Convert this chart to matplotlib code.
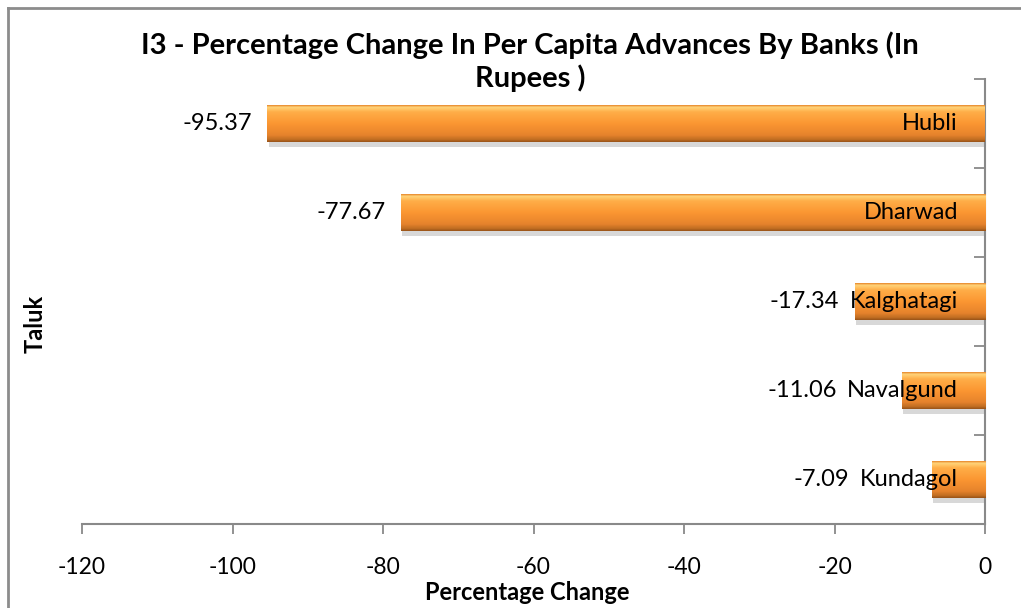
import numpy as np
import matplotlib
matplotlib.use("Agg")
import matplotlib.pyplot as plt
import matplotlib.patheffects as pe
from matplotlib.colors import LinearSegmentedColormap
from matplotlib.lines import Line2D

plt.rcParams.update({"font.family": ["Lato", "DejaVu Sans"]})

talukas = ["Hubli", "Dharwad", "Kalghatagi", "Navalgund", "Kundagol"]
pct_change = [-95.37, -77.67, -17.34, -11.06, -7.09]
xticks = [-120, -100, -80, -60, -40, -20, 0]

W, H = 1021, 608
fig = plt.figure(figsize=(W / 100, H / 100), dpi=100)
ax = fig.add_axes([82 / W, 1 - 524 / H, (985 - 82) / W, (524 - 79) / H])

grey = "#898989"
bar_h = 0.41
grad = LinearSegmentedColormap.from_list("bevel", [
    (0.0, "#e88a2e"), (0.05, "#ffd47a"), (0.18, "#ffae48"), (0.5, "#fb9632"),
    (0.82, "#e6832c"), (0.94, "#c06d22"), (1.0, "#9a5519")])
col = grad(np.linspace(0, 1, 64))[:, None, :3]

ypos = np.arange(len(talukas))
bars = ax.barh(ypos, pct_change, height=bar_h, color="#f39333", zorder=2,
               path_effects=[pe.SimplePatchShadow(offset=(1, -4), alpha=0.25, shadow_rgbFace="#666666"),
                             pe.Normal()])
for b, v, y in zip(bars, pct_change, ypos):
    im = ax.imshow(col, extent=(v, 0, y + bar_h / 2, y - bar_h / 2), aspect="auto",
                   origin="upper", zorder=3, interpolation="bilinear")
    im.set_clip_path(b)

ax.set_xlim(-120, 0)
ax.set_ylim(len(talukas) - 0.5, -0.5)

cat_texts = []
for v, y, name in zip(pct_change, ypos, talukas):
    cat_texts.append(ax.text(-3.6, y, name, ha="right", va="center", fontsize=17, zorder=5))

fig.canvas.draw()
r = fig.canvas.get_renderer()
inv = ax.transData.inverted()
for t, v, y in zip(cat_texts, pct_change, ypos):
    bb = t.get_window_extent(r)
    left = inv.transform((bb.x0, 0))[0]
    xv = min(v - 2.0, left - 1.4)
    ax.text(xv, y, f"{v:.2f}", ha="right", va="center", fontsize=17, zorder=5)

ax.set_xticks(xticks)
ax.set_xticklabels([str(t) for t in xticks], fontsize=16.5)
ax.tick_params(axis="x", direction="out", length=7, width=1.3, color=grey, pad=17)
ax.yaxis.tick_right()
ax.set_yticks(np.arange(-0.5, len(talukas), 1.0))
ax.set_yticklabels([])
ax.tick_params(axis="y", direction="in", length=8, width=1.3, color=grey)
for s in ["top", "left"]:
    ax.spines[s].set_visible(False)
for s in ["bottom", "right"]:
    ax.spines[s].set_color(grey)
    ax.spines[s].set_linewidth(1.5)

fig.text(530 / W, 1 - 62 / H, "I3 - Percentage Change In Per Capita Advances By Banks (In\nRupees )",
         ha="center", va="center", fontsize=21, fontweight="bold", linespacing=1.25)
fig.text(527 / W, 1 - 592 / H, "Percentage Change", ha="center", va="center",
         fontsize=17, fontweight="bold")
fig.text(35 / W, 1 - 324 / H, "Taluk", ha="center", va="center", rotation=90,
         fontsize=17, fontweight="bold")

fig.add_artist(Line2D([8 / W, 1.0], [1 - 8 / H, 1 - 8 / H], transform=fig.transFigure,
                      color="#8c8c8c", lw=2))
fig.add_artist(Line2D([8 / W, 8 / W], [0, 1 - 8 / H], transform=fig.transFigure,
                      color="#8c8c8c", lw=2))

fig.savefig("out.png", dpi=100)
